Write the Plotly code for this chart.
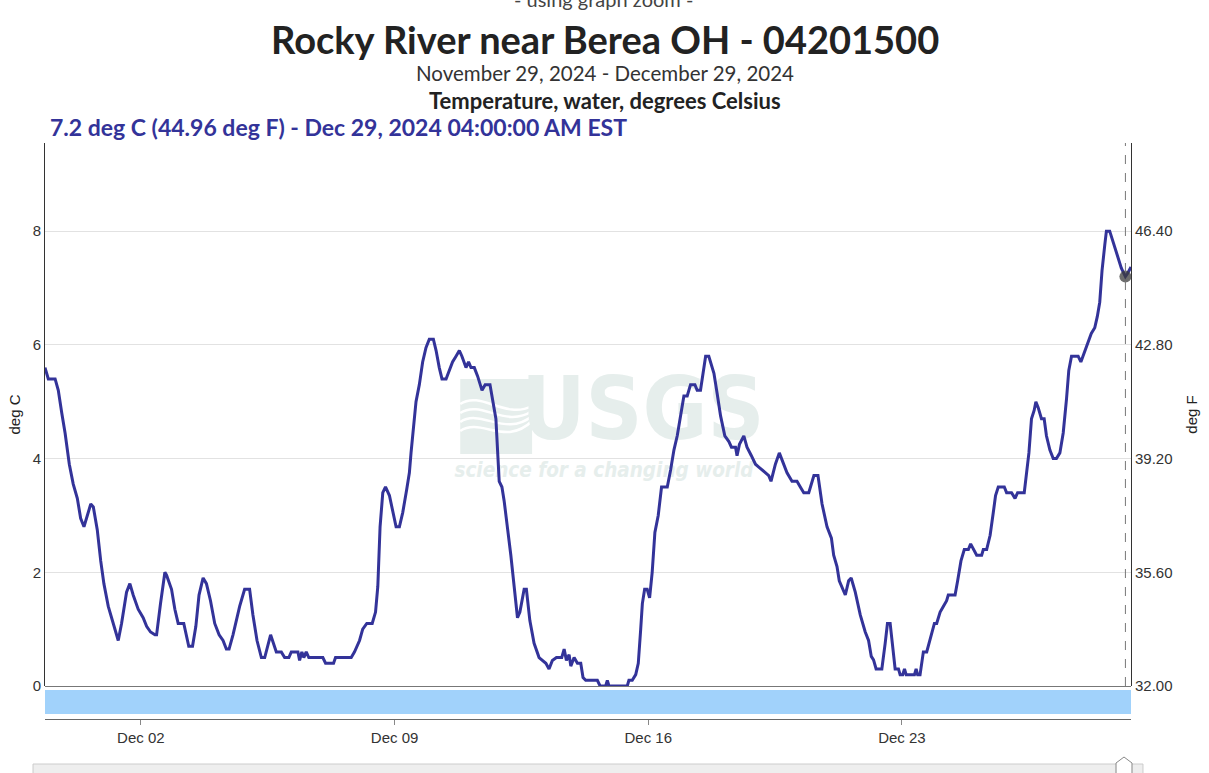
import pandas as pd
import plotly.graph_objects as go

# ---------------- data ----------------
# hours after 2024-11-29 00:00 EST and water temperature in deg C
hours = [
    8.5, 10.7, 15.2, 17.3, 19.6, 21.8, 24.6, 27.2, 29.9, 32.1, 34.3, 36.5, 38.8, 40.5,
    43.1, 45.4, 47.5, 50.4, 53.7, 57.0, 59.2, 62.5, 64.7, 66.9, 70.2, 73.5, 75.8, 78.4,
    81.3, 82.4, 85.0, 87.9, 89.0, 92.3, 94.5, 96.7, 100.4, 102.2, 103.7, 106.2, 108.4,
    110.5, 113.2, 115.4, 118.1, 120.9, 123.8, 126.4, 128.6, 130.4, 133.0, 137.4, 140.7,
    144.0, 146.2, 148.9, 151.8, 154.0, 157.9, 161.7, 165.0, 167.2, 170.0, 171.6, 176.0,
    177.1, 178.6, 179.9, 181.5, 183.2, 192.5, 194.3, 196.9, 199.6, 200.9, 211.3, 213.5,
    216.8, 218.9, 221.6, 225.2, 227.4, 228.9, 230.4, 232.2, 234.0, 236.6, 239.2, 241.0,
    243.2, 245.4, 248.0, 249.8, 250.9, 252.5, 254.2, 256.4, 258.6, 260.8, 263.0, 265.7,
    267.5, 269.6, 271.4, 274.1, 276.7, 278.4, 280.7, 282.9, 284.6, 287.3, 289.0, 290.6,
    292.8, 295.0, 297.9, 300.0, 303.2, 304.9, 307.1, 309.3, 311.1, 312.6, 314.8, 317.0,
    319.2, 321.4, 323.0, 325.8, 327.3, 329.6, 332.4, 335.7, 340.2, 342.3, 344.5, 347.2,
    350.7, 352.3, 353.8, 355.6, 356.7, 358.9, 361.1, 363.3, 364.8, 366.6, 374.3, 376.1,
    379.8, 380.9, 382.0, 394.1, 395.2, 397.4, 399.7, 401.4, 403.0, 404.1, 405.6, 407.3,
    408.9, 410.6, 412.4, 414.6, 416.8, 420.6, 422.8, 425.0, 427.2, 429.4, 431.6, 433.8,
    436.0, 438.9, 440.4, 442.6, 444.2, 446.0, 448.1, 451.5, 453.6, 455.9, 458.7, 461.4,
    463.1, 465.8, 466.8, 468.4, 471.3, 473.4, 476.3, 479.0, 481.2, 483.3, 485.6, 487.8,
    489.3, 492.2, 494.8, 497.7, 499.9, 503.2, 506.5, 508.7, 511.0, 514.3, 517.7, 520.4,
    523.1, 526.4, 529.3, 530.8, 533.0, 534.5, 536.8, 538.5, 540.7, 542.4, 545.1, 548.4,
    551.7, 553.9, 555.7, 557.2, 558.9, 562.7, 564.9, 566.4, 568.2, 569.9, 571.5, 573.7,
    574.8, 576.5, 577.7, 578.8, 584.3, 585.4, 586.4, 588.0, 590.2, 592.4, 594.6, 597.5,
    599.0, 601.3, 603.4, 605.6, 606.7, 611.2, 612.9, 615.1, 617.3, 620.0, 621.5, 623.3,
    625.5, 628.8, 629.9, 632.1, 634.4, 636.5, 638.0, 639.8, 643.8, 645.3, 648.6, 650.9,
    652.6, 657.0, 658.5, 660.1, 661.8, 663.6, 664.7, 666.2, 668.4, 670.2, 671.7, 674.0,
    676.2, 678.3, 680.6, 682.8, 685.0, 686.5, 688.3, 692.7, 694.5, 696.6, 698.2, 700.0,
    701.4, 703.7, 705.4, 707.0, 708.5, 710.3, 711.4, 713.6, 716.5, 718.7, 721.3, 724.0,
    725.3, 727.7,
]
temp_c = [
    5.6, 5.4, 5.4, 5.2, 4.8, 4.45, 3.9, 3.55, 3.3, 2.95, 2.8, 3.0, 3.2, 3.15,
    2.75, 2.2, 1.8, 1.4, 1.1, 0.8, 1.1, 1.65, 1.8, 1.6, 1.35, 1.2, 1.05, 0.95,
    0.9, 0.9, 1.45, 2.0, 1.95, 1.7, 1.35, 1.1, 1.1, 0.85, 0.7, 0.7, 1.05,
    1.6, 1.9, 1.8, 1.5, 1.1, 0.9, 0.8, 0.65, 0.65, 0.9, 1.4, 1.7,
    1.7, 1.25, 0.8, 0.5, 0.5, 0.9, 0.6, 0.6, 0.5, 0.5, 0.6, 0.6,
    0.45, 0.6, 0.5, 0.6, 0.5, 0.5, 0.4, 0.4, 0.4, 0.5, 0.5, 0.6,
    0.8, 1.0, 1.1, 1.1, 1.3, 1.75, 2.8, 3.4, 3.5, 3.35, 3.05, 2.8,
    2.8, 3.05, 3.45, 3.75, 4.1, 4.55, 5.0, 5.3, 5.7, 5.95, 6.1, 6.1,
    5.9, 5.6, 5.4, 5.4, 5.6, 5.7, 5.8, 5.9, 5.8, 5.6, 5.7, 5.6,
    5.6, 5.45, 5.2, 5.3, 5.3, 5.0, 4.7, 3.6, 3.5, 3.25, 2.8, 2.3,
    1.75, 1.2, 1.3, 1.7, 1.7, 1.15, 0.75, 0.5, 0.4, 0.3, 0.45, 0.5,
    0.5, 0.65, 0.45, 0.55, 0.35, 0.5, 0.4, 0.4, 0.15, 0.1, 0.1, 0.0,
    0.0, 0.1, 0.0, 0.0, 0.1, 0.1, 0.2, 0.4, 1.0, 1.45, 1.7, 1.7,
    1.55, 2.0, 2.7, 3.0, 3.5, 3.5, 3.8, 4.15, 4.4, 4.75, 5.1, 5.1,
    5.3, 5.3, 5.2, 5.2, 5.5, 5.8, 5.8, 5.5, 5.15, 4.75, 4.4, 4.3,
    4.2, 4.2, 4.05, 4.25, 4.4, 4.2, 4.05, 3.9, 3.85, 3.8, 3.75, 3.7,
    3.6, 3.9, 4.1, 3.9, 3.75, 3.6, 3.6, 3.5, 3.4, 3.4, 3.7, 3.7,
    3.2, 2.8, 2.6, 2.3, 2.1, 1.85, 1.7, 1.6, 1.85, 1.9, 1.65, 1.25,
    0.95, 0.8, 0.52, 0.46, 0.3, 0.3, 0.75, 1.1, 1.1, 0.7, 0.3, 0.3,
    0.2, 0.2, 0.3, 0.2, 0.2, 0.3, 0.2, 0.2, 0.6, 0.6, 0.8, 1.1,
    1.1, 1.3, 1.4, 1.5, 1.6, 1.6, 1.85, 2.2, 2.4, 2.4, 2.5, 2.4,
    2.3, 2.3, 2.4, 2.4, 2.65, 3.05, 3.35, 3.5, 3.5, 3.4, 3.4, 3.3,
    3.4, 3.4, 3.7, 4.1, 4.7, 4.85, 5.0, 4.9, 4.7, 4.7, 4.4, 4.15,
    4.0, 4.0, 4.1, 4.45, 5.05, 5.55, 5.8, 5.8, 5.7, 5.85, 5.95, 6.1,
    6.2, 6.3, 6.5, 6.75, 7.3, 7.75, 8.0, 8.0, 7.75, 7.55, 7.35, 7.2,
    7.25, 7.37,
]

left_tick_vals = [0, 2, 4, 6, 8]
right_tick_vals = [32.00, 35.60, 39.20, 42.80, 46.40]
x_tick_labels = ["Dec 02", "Dec 09", "Dec 16", "Dec 23"]
x_tick_dates = ["2024-12-02", "2024-12-09", "2024-12-16", "2024-12-23"]

hover_time = "2024-12-29 04:00"
hover_value_c = 7.2
hover_value_f = 44.96

site_title = "Rocky River near Berea OH - 04201500"
period_text = "November 29, 2024 - December 29, 2024"
param_text = "Temperature, water, degrees Celsius"
hover_text = "7.2 deg C (44.96 deg F) - Dec 29, 2024 04:00:00 AM EST"

# ---------------- build ----------------
base = pd.Timestamp("2024-11-29 00:00")
times = [base + pd.Timedelta(hours=h) for h in hours]
temp_f = [c * 1.8 + 32 for c in temp_c]

t_start, t_end = times[0], times[-1]
Y_MAX_C = 9.55
Y_MAX_F = 32 + Y_MAX_C * 1.8

W, H = 1209, 773
ML, MR, MT, MB = 45, 76, 143, 54
PW, PH = W - ML - MR, H - MT - MB
Y_DOM0 = 33 / PH


def px_x(px):
    return (px - ML) / PW


def px_y(py):
    return (H - MB - py) / PH


def px_to_time(px):
    return t_start + (t_end - t_start) * ((px - ML) / PW)


def px_to_c(py):
    return (686 - py) / (543 / Y_MAX_C)


wm_color = "#e6eeec"
wm_font = "DejaVu Sans Condensed, Roboto, sans-serif"
fig = go.Figure()

# watermark text (drawn first so the data line sits on top)
fig.add_trace(go.Scatter(
    x=[px_to_time(644)], y=[px_to_c(417)], mode="text", text=["<b>USGS</b>"],
    textfont=dict(family=wm_font, size=88, color=wm_color),
    hoverinfo="skip", showlegend=False))
fig.add_trace(go.Scatter(
    x=[px_to_time(605)], y=[px_to_c(472)], mode="text",
    text=["<b><i>science for a changing world</i></b>"],
    textfont=dict(family=wm_font, size=20.5, color=wm_color),
    hoverinfo="skip", showlegend=False))

# invisible Fahrenheit trace to carry the right axis
fig.add_trace(go.Scatter(
    x=times, y=temp_f, yaxis="y2", mode="lines",
    line=dict(color="rgba(0,0,0,0)", width=0), hoverinfo="skip", showlegend=False))

fig.add_trace(go.Scatter(
    x=times, y=temp_c, mode="lines",
    line=dict(color="#333399", width=3), showlegend=False,
    hovertemplate="%{y} deg C<extra></extra>"))

fig.add_trace(go.Scatter(
    x=[pd.Timestamp(hover_time)], y=[hover_value_c], mode="markers",
    marker=dict(size=12, color="rgba(60,60,60,0.75)"),
    hoverinfo="skip", showlegend=False))

shapes = []
# logo square + waves
shapes.append(dict(type="rect", xref="paper", yref="paper", layer="below",
                   x0=px_x(461), x1=px_x(533), y0=px_y(454), y1=px_y(379),
                   fillcolor=wm_color, line=dict(width=0)))
for i in range(4):
    y0 = 404 + 9 * i
    path = (f"M {px_x(461)},{px_y(y0)} "
            f"C {px_x(482)},{px_y(y0 - 14)} {px_x(506)},{px_y(y0 + 16)} {px_x(533)},{px_y(y0 + 2 - 4 * i)}")
    shapes.append(dict(type="path", xref="paper", yref="paper", layer="below",
                       path=path, line=dict(color="white", width=2.5)))
# provisional-data band
shapes.append(dict(type="rect", xref="paper", yref="paper",
                   x0=0, x1=1, y0=px_y(714), y1=px_y(690),
                   fillcolor="#a1d2fb", line=dict(width=0)))
# hover dashed line
shapes.append(dict(type="line", xref="x", yref="paper",
                   x0=hover_time, x1=hover_time, y0=Y_DOM0, y1=1,
                   line=dict(color="#777777", width=1, dash="dash")))
# range slider look-alike
shapes.append(dict(type="rect", xref="paper", yref="paper",
                   x0=px_x(33), x1=px_x(1145), y0=px_y(776), y1=px_y(764),
                   fillcolor="#eeeeee", line=dict(color="#cccccc", width=1)))
hx = 1126
hp = (f"M {px_x(hx - 8)},{px_y(776)} L {px_x(hx - 8)},{px_y(763)} L {px_x(hx)},{px_y(757)} "
      f"L {px_x(hx + 8)},{px_y(763)} L {px_x(hx + 8)},{px_y(776)} Z")
shapes.append(dict(type="path", xref="paper", yref="paper", path=hp,
                   fillcolor="white", line=dict(color="#888888", width=1)))

ann_font = "Lato"
annotations = [
    dict(text="- using graph zoom -", x=0.514, y=px_y(-1), font=dict(family=ann_font, size=20, color="#444")),
    dict(text=f"<b>{site_title}</b>", x=0.516, y=px_y(39), font=dict(family=ann_font, size=38, color="#222")),
    dict(text=period_text, x=0.516, y=px_y(73), font=dict(family=ann_font, size=20.5, color="#333")),
    dict(text=f"<b>{param_text}</b>", x=0.516, y=px_y(100), font=dict(family=ann_font, size=22, color="#222")),
    dict(text=f"<b>{hover_text}</b>", x=px_x(48), y=px_y(127), xanchor="left",
         font=dict(family=ann_font, size=23, color="#333399")),
]
for a in annotations:
    a.update(xref="paper", yref="paper", showarrow=False, yanchor="middle")
    a.setdefault("xanchor", "center")

tick_font = dict(family="Liberation Sans", size=15, color="#333")
fig.update_layout(
    width=W, height=H,
    margin=dict(l=ML, r=MR, t=MT, b=MB, pad=0),
    paper_bgcolor="white", plot_bgcolor="white",
    shapes=shapes, annotations=annotations,
    xaxis=dict(
        range=[t_start, t_end], showgrid=False, zeroline=False,
        anchor="free", position=0,
        showline=True, linecolor="#666", linewidth=1,
        ticks="outside", ticklen=5, tickcolor="#888",
        tickvals=x_tick_dates, ticktext=x_tick_labels,
        tickfont=tick_font,
    ),
    yaxis=dict(
        domain=[Y_DOM0, 1], range=[0, Y_MAX_C],
        tickvals=left_tick_vals, ticktext=[str(v) for v in left_tick_vals],
        showgrid=True, gridcolor="#e2e2e2", gridwidth=1,
        zeroline=True, zerolinecolor="#777", zerolinewidth=1,
        showline=True, linecolor="#333", linewidth=1, ticks="",
        tickfont=tick_font,
        title=dict(text="deg C", font=dict(family="Liberation Sans", size=15, color="#222"), standoff=8),
    ),
    yaxis2=dict(
        overlaying="y", side="right", range=[32, Y_MAX_F],
        tickvals=right_tick_vals, ticktext=[f"{v:.2f}" for v in right_tick_vals],
        showgrid=False, zeroline=False,
        showline=True, linecolor="#333", linewidth=1, ticks="",
        tickfont=tick_font,
        title=dict(text="deg F", font=dict(family="Liberation Sans", size=15, color="#222"), standoff=14),
    ),
    hovermode=False,
)

fig.write_html("out.html")
